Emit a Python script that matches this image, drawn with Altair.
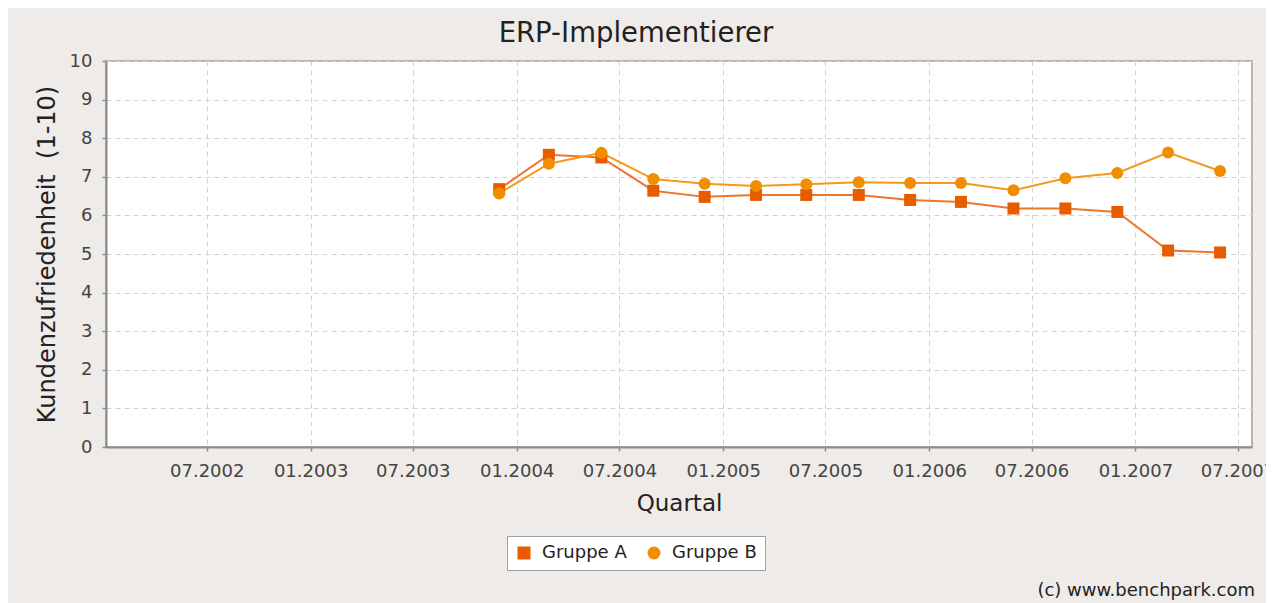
import altair as alt
import pandas as pd

# ---- data ----
dates = ["2003-12-01", "2004-02-27", "2004-05-30", "2004-08-30", "2004-11-29",
         "2005-02-28", "2005-05-28", "2005-08-29", "2005-11-28", "2006-02-26",
         "2006-05-30", "2006-08-30", "2006-11-30", "2007-02-28", "2007-05-31"]
gruppe_a = [6.68, 7.57, 7.50, 6.64, 6.48, 6.53, 6.53, 6.53, 6.40, 6.35,
            6.18, 6.18, 6.09, 5.09, 5.04]
gruppe_b = [6.57, 7.34, 7.62, 6.94, 6.82, 6.76, 6.81, 6.86, 6.84, 6.84,
            6.65, 6.96, 7.10, 7.63, 7.15]
series_names = ["Gruppe A", "Gruppe B"]
x_ticks = ["2002-07-01", "2003-01-01", "2003-07-01", "2004-01-01", "2004-07-01",
           "2005-01-01", "2005-07-01", "2006-01-01", "2006-07-01", "2007-01-01",
           "2007-07-01"]
y_ticks = [0, 1, 2, 3, 4, 5, 6, 7, 8, 9, 10]
x_domain = ["2002-01-03T12:00:00", "2007-07-26T14:00:00"]

title_text = "ERP-Implementierer"
x_title = "Quartal"
y_title = "Kundenzufriedenheit\u00a0 (1-10)"
copyright_text = "(c) www.benchpark.com"

marker_colors = ["#E85C00", "#F08E00"]
line_colors = ["#F0742C", "#F29A1A"]
shapes = ["square", "circle"]

FONT = "DejaVu Sans"


def to_ms(s):
    return int(pd.Timestamp(s, tz="UTC").value // 10**6)


rows = []
for name, vals in zip(series_names, [gruppe_a, gruppe_b]):
    for d, v in zip(dates, vals):
        rows.append({"date": d, "value": v, "series": name, "line_series": name})
df = pd.DataFrame(rows)

x_enc = alt.X(
    "date:T",
    scale=alt.Scale(type="utc", domain=[to_ms(d) for d in x_domain]),
    axis=alt.Axis(
        values=[to_ms(t) for t in x_ticks],
        labelExpr="utcFormat(datum.value, '%m.%Y')",
        title=x_title,
        labelOverlap=False,
        labelFlush=False,
        labelPadding=11,
        titlePadding=12,
    ),
)
y_enc = alt.Y(
    "value:Q",
    scale=alt.Scale(domain=[0, 10], nice=False, zero=True),
    axis=alt.Axis(values=y_ticks, title=y_title, labelPadding=10, titlePadding=10),
)

base = alt.Chart(df)

# stroke scale keeps a data-derived domain so its (disabled) legend is not merged
lines = base.mark_line(strokeWidth=2).encode(
    x=x_enc,
    y=y_enc,
    stroke=alt.Stroke("line_series:N", scale=alt.Scale(range=line_colors), legend=None),
)

legend = alt.Legend(
    title=None,
    orient="none",
    legendX=401,
    legendY=475,
    direction="horizontal",
    fillColor="white",
    strokeColor="#A0A0A0",
    padding=8,
    symbolSize=169,
    symbolStrokeWidth=0,
    symbolOpacity=1,
    labelFont=FONT,
    labelFontSize=18,
    labelColor="#222222",
    columnPadding=18,
    labelOffset=9,
)

points = base.mark_point(filled=True, size=144, opacity=1, strokeWidth=0).encode(
    x=x_enc,
    y=y_enc,
    color=alt.Color("series:N", scale=alt.Scale(domain=series_names, range=marker_colors), legend=legend),
    shape=alt.Shape("series:N", scale=alt.Scale(domain=series_names, range=shapes), legend=legend),
)

credit = alt.Chart(pd.DataFrame({"t": [copyright_text]})).mark_text(
    align="right", baseline="alphabetic", font=FONT, fontSize=18, color="#222222"
).encode(text="t:N", x=alt.value(1149), y=alt.value(535))

chart = (
    alt.layer(lines, points, credit)
    .properties(
        width=1146,
        height=386,
        autosize=alt.AutoSizeParams(type="none"),
        padding={"left": 98, "top": 53, "right": 14, "bottom": 156},
        background="#EEEBE8",
        title=alt.Title(
            title_text,
            font=FONT,
            fontSize=27.5,
            fontWeight="normal",
            color="#222222",
            anchor="middle",
            frame="group",
            dx=-43,
            dy=27,
            offset=10,
            baseline="alphabetic",
        ),
    )
    .configure_view(fill="white", stroke="#B4B4B4", strokeWidth=2)
    .configure_axis(
        domainColor="#8C8C8C",
        domainWidth=2,
        tickColor="#8C8C8C",
        tickSize=4,
        tickWidth=1.5,
        grid=True,
        gridColor="#D2D2D2",
        gridDash=[5, 4],
        gridWidth=1,
        labelFont=FONT,
        labelFontSize=18,
        labelColor="#444444",
        titleFont=FONT,
        titleFontSize=23,
        titleFontWeight="normal",
        titleColor="#222222",
    )
    .configure_axisY(titleFontSize=24)
)

chart.save("out.html", embed_options={"renderer": "svg", "actions": False})
